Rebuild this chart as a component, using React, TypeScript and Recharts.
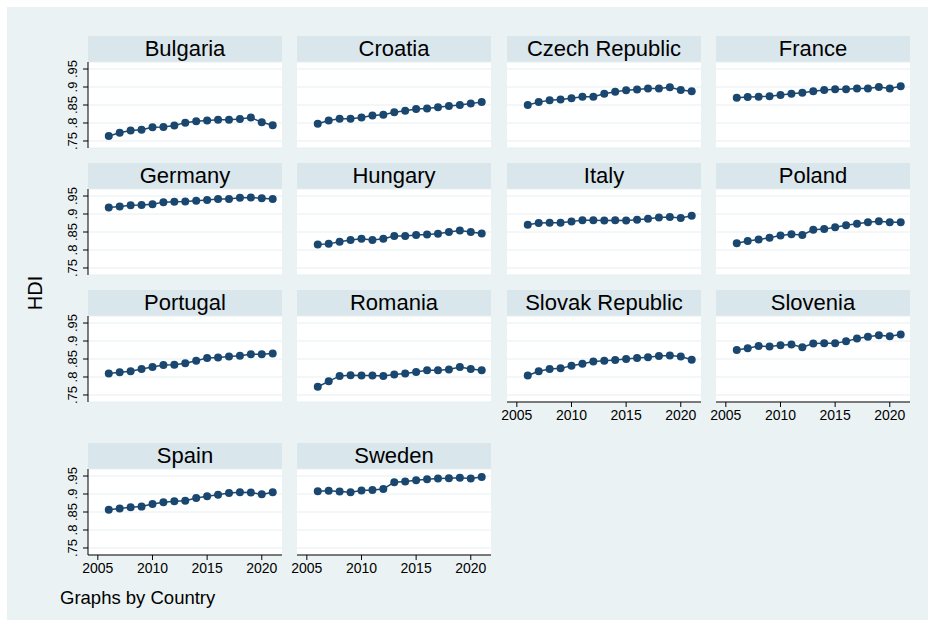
import { LineChart, Line, XAxis, YAxis, CartesianGrid } from 'recharts';

const years = [2006, 2007, 2008, 2009, 2010, 2011, 2012, 2013, 2014, 2015, 2016, 2017, 2018, 2019, 2020, 2021];

const bulgaria = [0.764, 0.773, 0.779, 0.781, 0.788, 0.789, 0.793, 0.801, 0.805, 0.807, 0.809, 0.809, 0.811, 0.815, 0.802, 0.794];
const croatia = [0.798, 0.807, 0.812, 0.812, 0.815, 0.821, 0.823, 0.830, 0.834, 0.839, 0.840, 0.844, 0.847, 0.850, 0.854, 0.858];
const czech = [0.850, 0.858, 0.863, 0.865, 0.869, 0.873, 0.873, 0.881, 0.887, 0.891, 0.893, 0.896, 0.896, 0.899, 0.892, 0.888];
const france = [0.870, 0.872, 0.873, 0.874, 0.878, 0.881, 0.884, 0.888, 0.892, 0.894, 0.894, 0.896, 0.896, 0.900, 0.896, 0.902];
const germany = [0.918, 0.921, 0.924, 0.925, 0.927, 0.933, 0.934, 0.935, 0.937, 0.939, 0.942, 0.942, 0.945, 0.946, 0.944, 0.942];
const hungary = [0.815, 0.817, 0.823, 0.828, 0.831, 0.828, 0.831, 0.839, 0.839, 0.842, 0.843, 0.845, 0.850, 0.854, 0.850, 0.846];
const italy = [0.870, 0.875, 0.876, 0.876, 0.879, 0.883, 0.883, 0.882, 0.883, 0.882, 0.884, 0.887, 0.890, 0.892, 0.889, 0.895];
const poland = [0.819, 0.825, 0.829, 0.834, 0.840, 0.844, 0.842, 0.856, 0.858, 0.863, 0.869, 0.873, 0.877, 0.880, 0.877, 0.877];
const portugal = [0.810, 0.813, 0.816, 0.822, 0.828, 0.833, 0.834, 0.838, 0.845, 0.853, 0.854, 0.857, 0.859, 0.863, 0.863, 0.865];
const romania = [0.773, 0.788, 0.803, 0.805, 0.804, 0.804, 0.803, 0.807, 0.810, 0.814, 0.819, 0.819, 0.821, 0.828, 0.822, 0.819];
const slovakia = [0.804, 0.816, 0.822, 0.824, 0.831, 0.837, 0.843, 0.845, 0.847, 0.850, 0.853, 0.855, 0.858, 0.860, 0.857, 0.848];
const slovenia = [0.875, 0.880, 0.886, 0.885, 0.888, 0.890, 0.883, 0.893, 0.894, 0.894, 0.899, 0.907, 0.912, 0.916, 0.913, 0.918];
const spain = [0.856, 0.860, 0.863, 0.865, 0.872, 0.877, 0.880, 0.881, 0.889, 0.894, 0.898, 0.903, 0.905, 0.904, 0.899, 0.905];
const sweden = [0.908, 0.909, 0.907, 0.905, 0.910, 0.911, 0.914, 0.933, 0.935, 0.938, 0.941, 0.943, 0.944, 0.945, 0.943, 0.947];

const countries = ['Bulgaria', 'Croatia', 'Czech Republic', 'France', 'Germany', 'Hungary', 'Italy', 'Poland',
  'Portugal', 'Romania', 'Slovak Republic', 'Slovenia', 'Spain', 'Sweden'];
const series = [bulgaria, croatia, czech, france, germany, hungary, italy, poland,
  portugal, romania, slovakia, slovenia, spain, sweden];

const yTicks = [0.75, 0.8, 0.85, 0.9, 0.95];
const xTicks = [2005, 2010, 2015, 2020];

const FONT = '"Liberation Sans", Arial, sans-serif';
const NAVY = '#1a476f';
const colLefts = [88, 297, 507, 716];
const rowTops = [36, 163, 290, 443];
const PW = 194;
const HEAD = 26;
const PH = 86;
const YW = 40;
const XH = 26;
const PAD = 14; // room so edge tick labels are not clipped

const YTick = (props: any) => {
  const { x, y, payload } = props;
  const bx = x - 4;
  return (
    <text x={bx} y={y} transform={`rotate(-90 ${bx} ${y})`} textAnchor="middle" fontSize={13} fill="#000" fontFamily={FONT}>
      {String(payload.value).replace(/^0/, '')}
    </text>
  );
};

function Panel({ index }: { index: number }) {
  const col = index % 4;
  const row = Math.floor(index / 4);
  const showY = col === 0;
  // bottom axis where nothing sits below the panel
  const showX = index + 4 >= countries.length;
  const left = colLefts[col];
  const top = rowTops[row];
  const data = years.map((yr, i) => ({ year: yr, hdi: series[index][i] }));
  const extraL = showY ? YW : 0;
  const extraB = showX ? XH : 0;

  return (
    <>
      <div style={{
        position: 'absolute', left, top, width: PW, height: HEAD, background: '#d9e6eb',
        fontFamily: FONT, fontSize: 22, lineHeight: `${HEAD}px`, textAlign: 'center', color: '#000'
      }}>
        {countries[index]}
      </div>
      <div style={{ position: 'absolute', left: left - extraL - PAD, top: top + HEAD - PAD }}>
        <LineChart
          width={PW + extraL + 2 * PAD}
          height={PH + extraB + 2 * PAD}
          data={data}
          margin={{ top: PAD, right: PAD, bottom: PAD, left: PAD }}
        >
          <CartesianGrid vertical={false} stroke="#e6eff1" fill="#ffffff" />
          <XAxis
            dataKey="year"
            type="number"
            domain={[2004.1, 2021.85]}
            ticks={xTicks}
            interval={0}
            allowDataOverflow
            hide={!showX}
            height={XH}
            stroke="#000"
            tickSize={5}
            tickMargin={3}
            tick={{ fontSize: 14, fill: '#000', fontFamily: FONT }}
          />
          <YAxis
            type="number"
            domain={[0.7305, 0.9695]}
            ticks={yTicks}
            interval={0}
            allowDataOverflow
            hide={!showY}
            width={YW}
            stroke="#000"
            tickSize={5}
            tick={<YTick />}
          />
          <Line
            dataKey="hdi"
            stroke={NAVY}
            strokeWidth={1.5}
            dot={{ r: 4, fill: NAVY, stroke: 'none' }}
            isAnimationActive={false}
          />
        </LineChart>
      </div>
    </>
  );
}

export default function App() {
  return (
    <div style={{ position: 'absolute', left: 0, top: 0, width: 928, height: 629, background: '#fff' }}>
      <div style={{ position: 'absolute', left: 7, top: 7, width: 921, height: 613, background: '#eaf2f3' }} />
      {countries.map((_, i) => <Panel key={i} index={i} />)}
      <div style={{
        position: 'absolute', left: 35, top: 293, transform: 'translate(-50%, -50%) rotate(-90deg)',
        fontFamily: FONT, fontSize: 20, color: '#000', whiteSpace: 'nowrap'
      }}>
        HDI
      </div>
      <div style={{
        position: 'absolute', left: 60, top: 587, fontFamily: FONT, fontSize: 18.5, color: '#000', whiteSpace: 'nowrap'
      }}>
        Graphs by Country
      </div>
    </div>
  );
}
